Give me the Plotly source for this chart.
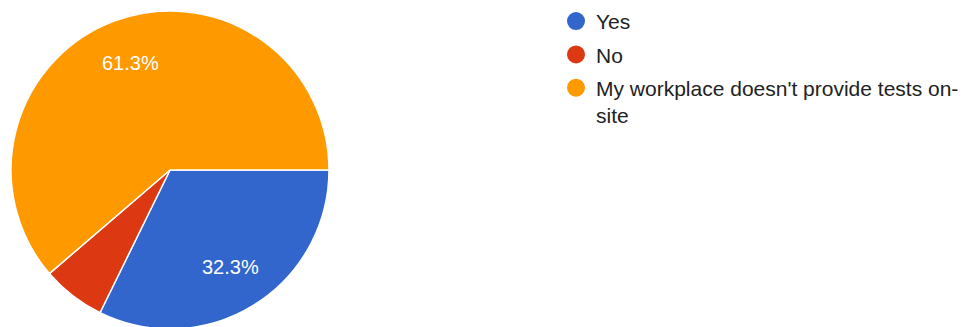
import math
import plotly.graph_objects as go

categories = ["Yes", "No", "My workplace doesn't provide tests on-site"]
legend_labels = ["Yes", "No", "My workplace doesn't provide tests on-<br>site"]
counts = [10, 2, 19]
colors = ["#3366CC", "#DC3912", "#FF9900"]
show_label = [True, False, True]

FONT = "Liberation Sans, Arial, sans-serif"

W, H = 975, 327
ML, MT, MR, MB = 3, 3, 0, 0
PW, PH = W - ML - MR, H - MT - MB
DIAM = 318
dom_x = [0, DIAM / PW]
dom_y = [1 - DIAM / PH, 1]

fig = go.Figure()
fig.add_trace(go.Pie(
    labels=categories,
    values=counts,
    sort=False,
    direction="clockwise",
    rotation=90,
    marker=dict(colors=colors, line=dict(color="white", width=1.5)),
    textinfo="none",
    showlegend=False,
    hoverinfo="label+percent",
    domain=dict(x=dom_x, y=dom_y),
))

# percentage labels placed at slice mid-angles (derived from the data)
total = sum(counts)
cx = (dom_x[0] + dom_x[1]) / 2
cy = (dom_y[0] + dom_y[1]) / 2
r_px = DIAM / 2 * 0.72
start = 0.0  # degrees clockwise from 3 o'clock
for val, show in zip(counts, show_label):
    frac = val / total
    mid = start + frac * 180.0
    start += frac * 360.0
    if not show:
        continue
    a = math.radians(mid)
    fig.add_annotation(
        x=cx + r_px * math.cos(a) / PW,
        y=cy - r_px * math.sin(a) / PH,
        xref="paper", yref="paper", showarrow=False,
        xanchor="center", yanchor="middle",
        text=f"{frac * 100:.1f}%",
        font=dict(color="white", size=20, family=FONT),
    )

for name, col, grp in zip(legend_labels, colors, ["a", "b", "c"]):
    fig.add_trace(go.Scatter(
        x=[None], y=[None], mode="markers", name=name, legendgroup=grp,
        marker=dict(symbol="circle", size=16, color=col, line=dict(color=col, width=2)),
    ))

fig.update_layout(
    width=W, height=H,
    margin=dict(l=ML, r=MR, t=MT, b=MB, autoexpand=False),
    paper_bgcolor="white", plot_bgcolor="white",
    xaxis=dict(visible=False), yaxis=dict(visible=False),
    font=dict(family=FONT, color="#222222"),
    legend=dict(
        x=0.5607, y=1.031, xanchor="left", yanchor="top",
        font=dict(size=21, color="#222222", family=FONT),
        tracegroupgap=3, itemsizing="trace", valign="top",
        bgcolor="rgba(0,0,0,0)",
    ),
)

fig.write_html("out.html")
